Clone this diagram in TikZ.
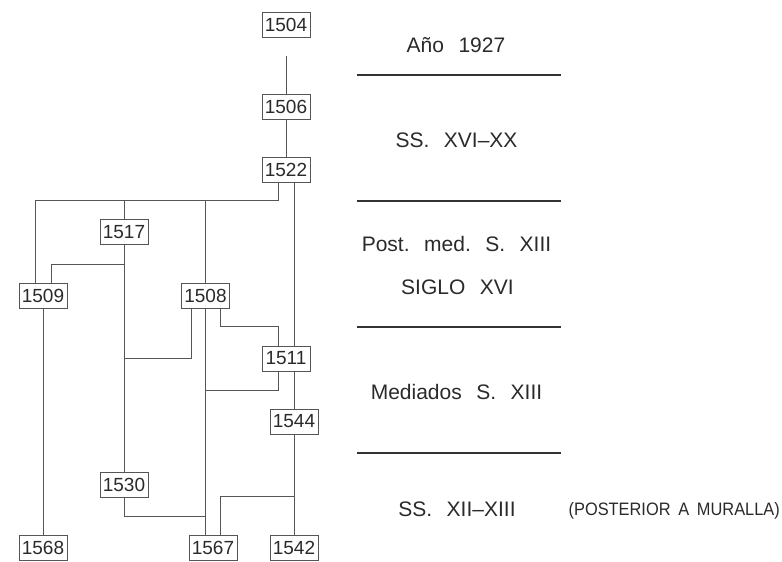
\documentclass[tikz,border=0pt]{standalone}
\usepackage{fontspec}
\setmainfont{Liberation Sans}
\usetikzlibrary{calc}
\definecolor{ln}{HTML}{555555}
\definecolor{tx}{HTML}{2A2A2A}
\newcommand\erafont{\fontsize{21}{21}\selectfont\spaceskip=14.5pt\relax\xspaceskip=14.5pt\relax}
\newcommand\erasmallfont{\fontsize{18}{18}\selectfont\spaceskip=8.5pt\relax\xspaceskip=8.5pt\relax}
\begin{document}
\begin{tikzpicture}[x=1pt,y=-1pt,
  box/.style={draw=ln, line width=0.9pt, minimum width=48pt, minimum height=25pt, inner sep=0pt, font=\fontsize{19}{19}\selectfont, text=tx},
  wire/.style={draw=ln, line width=0.9pt},
  era/.style={font=\erafont, text=tx, inner sep=0pt, anchor=base},
  erasmall/.style={font=\erasmallfont, text=tx, inner sep=0pt, anchor=base east},
  sep/.style={draw=black!80, line width=1.8pt}]
\useasboundingbox (0,0) rectangle (782,562);

% boxes
\node[box] (n1504) at (286,25) {1504};
\node[box] (n1506) at (286,106.5) {1506};
\node[box] (n1522) at (286,169.5) {1522};
\node[box] (n1517) at (124,232) {1517};
\node[box] (n1509) at (43,295.5) {1509};
\node[box] (n1508) at (205.5,295.5) {1508};
\node[box] (n1511) at (286,358.5) {1511};
\node[box] (n1544) at (294,421.5) {1544};
\node[box] (n1530) at (124,484.5) {1530};
\node[box] (n1568) at (43,547.5) {1568};
\node[box] (n1567) at (213,547.5) {1567};
\node[box] (n1542) at (294,547.5) {1542};

% connectors
\coordinate (c1504) at (286,56);
\draw[wire] (c1504) -- (c1504 |- n1506.north);
\draw[wire] (n1506) -- (n1522);
\coordinate (bus) at (0,201);
\draw[wire] ($(n1522.south)+(-8,0)$) |- ($(n1509.north)+(-8,-82)$) -- ($(n1509.north)+(-8,0)$);
\draw[wire] (n1517.north) -- (n1517.north |- bus);
\draw[wire] (n1508.north) -- (n1508.north |- bus);
\draw[wire] ($(n1522.south)+(8,0)$) -- ($(n1511.north)+(8,0)$);
\draw[wire] ($(n1511.south)+(8,0)$) -- (n1544.north);
\draw[wire] (n1544) -- (n1542);
\draw[wire] (n1517) -- (n1530);
\draw[wire] ($(n1517.south)+(0,19)$) -| ($(n1509.north)+(8,0)$);
\draw[wire] (n1509) -- (n1568);
\draw[wire] ($(n1508.south)+(-14.5,0)$) |- (n1517 |- n1511);
\draw[wire] (n1508.south) -- (n1508.south |- n1567.north);
\draw[wire] ($(n1508.south)+(14.5,0)$) |- ($(n1511.north)+(-8,-19)$) -- ($(n1511.north)+(-8,0)$);
\coordinate (k1) at ($(n1511.south)+(-8,19)$);
\draw[wire] ($(n1511.south)+(-8,0)$) -- (k1) -- (k1 -| n1508.south);
\coordinate (k2) at ($(n1567.north)+(7,-38)$);
\draw[wire] (k2 -| n1544.south) -- (k2) -- ($(n1567.north)+(7,0)$);
\coordinate (k3) at ($(n1530.south)+(0,19)$);
\draw[wire] (n1530.south) -- (k3) -- (k3 -| n1508.south);

% period labels
\node[era] (t1) at (456,52) {Año 1927};
\node[era] (t2) at (456.5,147) {SS. XVI–XX};
\node[era] (t3) at (456.5,251) {Post. med. S. XIII};
\node[era] (t4) at (457.5,294) {SIGLO XVI};
\node[era] (t5) at (456.5,399) {Mediados S. XIII};
\node[era] (t6) at (457,516) {SS. XII–XIII};
\node[erasmall] (t7) at (780,515) {\scalebox{0.91}[1]{(POSTERIOR A MURALLA)}};

% separators
\draw[sep] (357,75) -- (561,75);
\draw[sep] (357,201) -- (561,201);
\draw[sep] (357,327) -- (561,327);
\draw[sep] (357,453) -- (561,453);
\end{tikzpicture}
\end{document}
